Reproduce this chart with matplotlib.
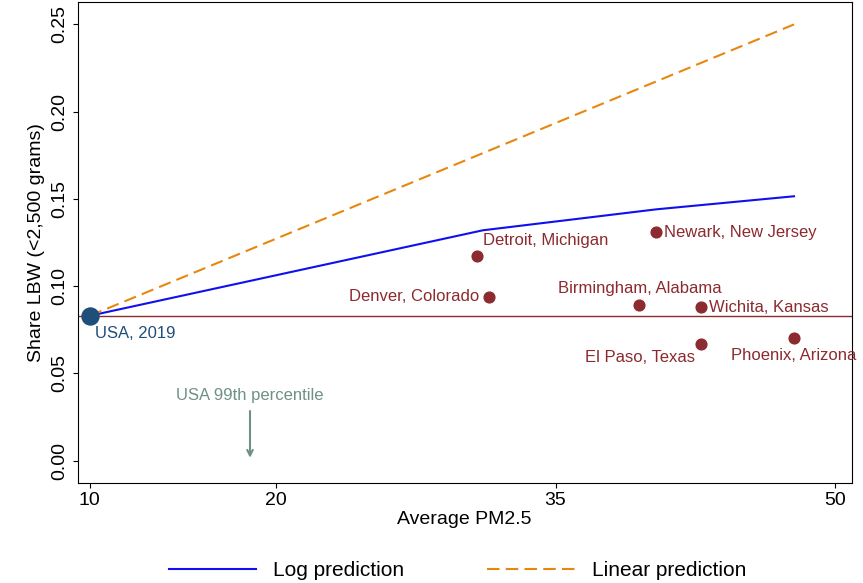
import matplotlib.pyplot as plt

plt.rcParams["font.family"] = ["Liberation Sans", "DejaVu Sans"]

cities = ["Detroit, Michigan", "Denver, Colorado", "Newark, New Jersey", "Birmingham, Alabama",
          "Wichita, Kansas", "El Paso, Texas", "Phoenix, Arizona"]
city_pm = [30.8, 31.45, 40.4, 39.5, 42.8, 42.8, 47.8]
city_lbw = [0.1175, 0.094, 0.131, 0.089, 0.088, 0.067, 0.070]
usa_pm, usa_lbw = 10, 0.083
log_x = [10, 31.1, 40.4, 47.8]
log_y = [0.083, 0.132, 0.144, 0.1515]
lin_x = [10, 47.8]
lin_y = [0.083, 0.25]
p99 = 18.6

red = "#8b2a2f"
fig = plt.figure(figsize=(8.63, 5.83), dpi=100)
ax = fig.add_axes([0.090, 0.172, 0.897, 0.825])
ax.axhline(usa_lbw, color=red, lw=1)
l1, = ax.plot(log_x, log_y, color="#1010ee", lw=1.5, label="Log prediction")
l2, = ax.plot(lin_x, lin_y, color="#e8870e", lw=1.5, ls=(0, (6, 3)), label="Linear prediction")
ax.scatter(city_pm, city_lbw, color=red, s=60, zorder=3)
ax.scatter([usa_pm], [usa_lbw], color="#1f4e79", s=150, zorder=4)

offs = {"Detroit, Michigan": (4, 11, "left"), "Denver, Colorado": (-7, 0, "right"),
        "Newark, New Jersey": (6, 0, "left"), "Birmingham, Alabama": (0, 12, "center"),
        "Wichita, Kansas": (6, 0, "left"), "El Paso, Texas": (-4, -10, "right"),
        "Phoenix, Arizona": (0, -12, "center")}
for c, x, y in zip(cities, city_pm, city_lbw):
    dx, dy, ha = offs[c]
    ax.annotate(c, (x, y), xytext=(dx, dy), textcoords="offset points", ha=ha, va="center",
                color=red, fontsize=12)
ax.annotate("USA, 2019", (usa_pm, usa_lbw), xytext=(4, -13), textcoords="offset points",
            ha="left", va="center", color="#1f4e79", fontsize=12)
ax.annotate("", xy=(p99, 0.0), xytext=(p99, 0.03),
            arrowprops=dict(arrowstyle="->", color="#6f9085", lw=1.5))
ax.text(p99, 0.033, "USA 99th percentile", ha="center", va="bottom", color="#6f9085", fontsize=12)

ax.set_xlim(9.35, 50.9)
ax.set_ylim(-0.0127, 0.263)
ax.set_xticks([10, 20, 35, 50])
ax.set_yticks([0, 0.05, 0.10, 0.15, 0.20, 0.25])
ax.set_yticklabels(["0.00", "0.05", "0.10", "0.15", "0.20", "0.25"], rotation=90, va="center")
ax.tick_params(labelsize=14)
ax.set_xlabel("Average PM2.5", fontsize=14, labelpad=1)
ax.set_ylabel("Share LBW (<2,500 grams)", fontsize=14, labelpad=4)
fig.legend(handles=[l1, l2], loc="lower center", ncol=2, frameon=False, fontsize=15,
           bbox_to_anchor=(0.53, -0.027), handlelength=4.2, columnspacing=4)
fig.savefig("out.png")
